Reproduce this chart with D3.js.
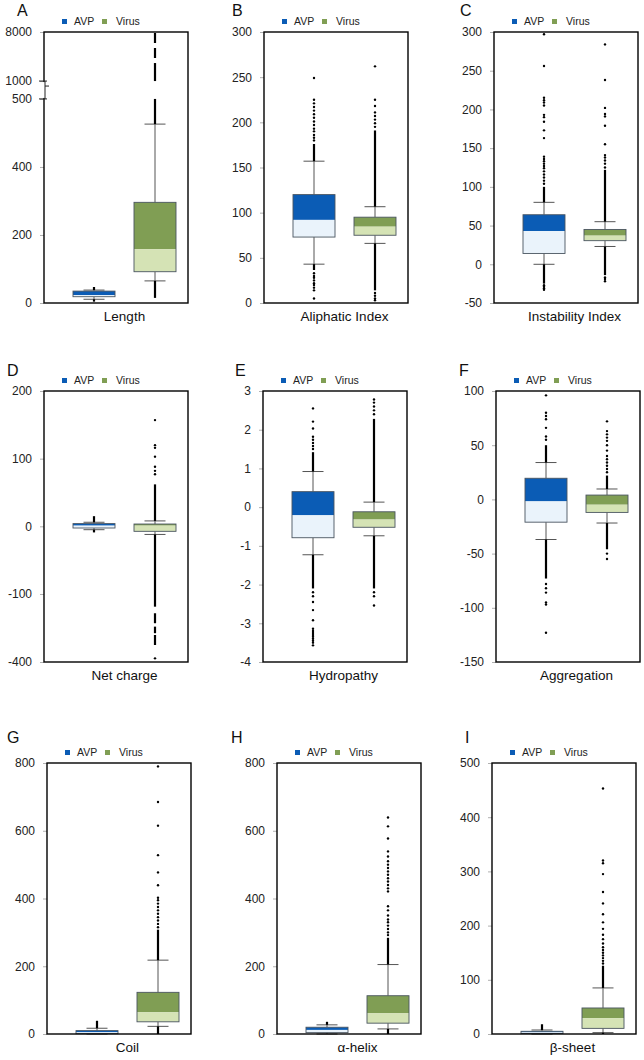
<!DOCTYPE html>
<html><head><meta charset="utf-8">
<script src="https://cdn.jsdelivr.net/npm/d3@7"></script>
<style>body{margin:0;background:#fff}svg{display:block}text{font-family:"Liberation Sans",Arial,sans-serif}</style>
</head><body>
<svg id="c" width="644" height="1060"></svg>
<script>
// ---------- DATA ----------
const panelLetters = ["A","B","C","D","E","F","G","H","I"];
const featureLabels = ["Length","Aliphatic Index","Instability Index","Net charge","Hydropathy","Aggregation","Coil","\u03b1-helix","\u03b2-sheet"];
const groups = ["AVP","Virus"];
// box stats: [lower whisker, Q1, median, Q3, upper whisker]
const avpStats = [
  [11,18.5,23,35,38],[43,73,92,120,157],[0,14,43,64,80],
  [-5,-2.5,1,4,6],[-1.23,-0.79,-0.21,0.4,0.92],[-37,-21,-1.8,19.5,34],
  [0,1,5,10,17],[0,4,12,20,27],[0,1,3,5,7.4]
];
const virusStats = [
  [65,92,158,296,463],[66,75,84.5,95,106.6],[23,30.5,37,45,55],
  [-12,-7.4,1,3.4,8],[-0.74,-0.52,-0.32,-0.12,0.13],[-21.8,-12,-4.9,4,9.6],
  [22.6,36,64,123,218],[15,32,61,113,205],[2.5,10.4,29,48,85]
];
// dense runs of outliers: [from, to]
const avpRuns = [
  [[38,47],[4,11]],[[157,176],[36.5,43]],[[80,100],[-25,0]],
  [[6,15],[-9,-5]],[[0.92,1.42],[-2.1,-1.23]],[[34,50],[-73,-37]],
  [[17,39]],[[27,36]],[[7.4,18]]
];
const virusRuns = [
  [[463,500],[1000,3571],[4286,5714],[6429,7857],[15,65]],
  [[106.6,191],[14,66]],[[55,122],[-14,23]],
  [[8,62],[-156,-12],[-185,-229],[-244,-273],[-281,-325]],
  [[0.13,2.28],[-2.1,-0.74]],[[9.6,22],[-46,-21.8]],
  [[218,308],[0,22.6]],[[205,284],[0,15]],[[85,126],[0,2.5]]
];
// single outliers
const avpDots = [
  [],
  [180,183,186,190,193,197,201,205,209,213,217,221,225,249,33,30,28,25,22,20,17,14,5],
  [104,108,112,116,120,124,127,130,133,136,139,163,173,184,190,193,205,209,212,215,256,297,-27,-29,-31,-33],
  [],
  [1.5,1.58,1.66,1.74,1.82,2.03,2.21,2.55,-2.2,-2.3,-2.45,-2.66,-2.92,-3.14,-3.2,-3.25,-3.3,-3.35,-3.4,-3.45,-3.5,-3.57],
  [55,58,66,74,77,80,96,-78,-82,-86,-95,-97,-123],
  [],[],[]
];
const virusDots = [
  [],
  [195,199,203,207,211,218,225,262,11,8,5,3],
  [125,130,134,138,141,155,179,191,194,202,238,284,-17,-19,-22],
  [157,120,116,103,88,82,77,-384],
  [2.4,2.5,2.6,2.7,2.78,-2.2,-2.3,-2.54],
  [25,28,31,34,37,40,45,50,54,57,60,63,72,-50,-55],
  [315,325,335,345,355,365,375,385,395,402,439,477,528,615,685,790],
  [292,300,310,320,330,338,350,365,377,421,430,440,450,460,470,480,490,500,510,524,539,577,613,639],
  [130,135,140,145,150,155,160,167,175,183,194,206,221,241,262,295,315,320,453]
];
// y axis breakpoints (domain) and tick labels
const yBreaks = [
  [0,400,500,1000,8000],[0,300],[-50,300],
  [-400,-100,200],[-4,3],[-150,100],
  [0,800],[0,800],[0,500]
];
const yTicks = [
  [0,200,400,500,1000,8000],[0,50,100,150,200,250,300],[-50,0,50,100,150,200,250,300],
  [-400,-100,0,100,200],[-4,-3,-2,-1,0,1,2,3],[-150,-100,-50,0,50,100],
  [0,200,400,600,800],[0,200,400,600,800],[0,100,200,300,400,500]
];

// ---------- LAYOUT ----------
const frameLeft = [44,264,494,44,263,496,47,277,492];
const rowTop = [32,391,763];
const H = 271, W = 144;
const letterX = [17,232,460,7,235,459,7,231,465];
const letterY = [16,376,743];
// fractional positions of piecewise breaks (0 = bottom)
const breakFrac = {0:[0,0.502,0.753,0.819,1], 3:[0,0.251,1]};
const colors = {AVP:["#0b5cb5","#eaf3fb"], Virus:["#809e54","#d5e3b5"]};

const svg = d3.select("#c");

panelLetters.forEach((L,i)=>{
  const row = Math.floor(i/3);
  const left = frameLeft[i], top = rowTop[row];
  const g = svg.append("g").attr("transform",`translate(${left},${top})`);

  const dom = yBreaks[i];
  const fr = breakFrac[i] || [0,1];
  const y = d3.scaleLinear().domain(dom).range(fr.map(f=>H - f*H));
  const x = d3.scalePoint().domain(groups).range([50,111]);
  const bw = 42;

  // axis
  const ax = g.append("g").call(d3.axisLeft(y).tickValues(yTicks[i]).tickSize(4).tickPadding(8).tickFormat(d=>String(d)));
  ax.select(".domain").remove();
  ax.selectAll(".tick line").attr("stroke","#b0b0b0");
  ax.selectAll(".tick text").attr("fill","#222").style("font-size","12px").style("font-family",'"Liberation Sans",Arial,sans-serif');

  const stats = {AVP:avpStats[i], Virus:virusStats[i]};
  const runs = {AVP:avpRuns[i], Virus:virusRuns[i]};
  const dots = {AVP:avpDots[i], Virus:virusDots[i]};

  groups.forEach(grp=>{
    const cx = x(grp);
    const [wl,q1,md,q3,wh] = stats[grp];
    // whiskers
    g.append("line").attr("x1",cx).attr("x2",cx).attr("y1",y(q3)).attr("y2",y(wh)).attr("stroke","#555").attr("stroke-width",1);
    g.append("line").attr("x1",cx).attr("x2",cx).attr("y1",y(q1)).attr("y2",y(wl)).attr("stroke","#555").attr("stroke-width",1);
    [wl,wh].forEach(v=>{
      g.append("line").attr("x1",cx-bw/4).attr("x2",cx+bw/4).attr("y1",y(v)).attr("y2",y(v)).attr("stroke","#555").attr("stroke-width",1);
    });
    // outlier runs
    runs[grp].forEach(r=>{
      g.append("line").attr("x1",cx).attr("x2",cx).attr("y1",y(r[0])).attr("y2",y(r[1]))
        .attr("stroke","#000").attr("stroke-width",2.2);
    });
    // box
    g.append("rect").attr("x",cx-bw/2).attr("width",bw).attr("y",y(q3)).attr("height",Math.max(0,y(md)-y(q3))).attr("fill",colors[grp][0]);
    g.append("rect").attr("x",cx-bw/2).attr("width",bw).attr("y",y(md)).attr("height",Math.max(0,y(q1)-y(md))).attr("fill",colors[grp][1]);
    g.append("rect").attr("x",cx-bw/2).attr("width",bw).attr("y",y(q3)).attr("height",Math.max(0.5,y(q1)-y(q3)))
      .attr("fill","none").attr("stroke","#4a5560").attr("stroke-width",0.9);
    // dots
    g.selectAll(null).data(dots[grp]).enter().append("circle")
      .attr("cx",cx).attr("cy",d=>y(d)).attr("r",1.2).attr("fill","#000");
  });

  // frame
  g.append("rect").attr("x",0).attr("y",0).attr("width",W).attr("height",H)
    .attr("fill","none").attr("stroke","#000").attr("stroke-width",1.4);

  // axis break marker for panel A
  if(i===0){
    const y1 = y(1000), y2 = y(500);
    g.append("rect").attr("x",-1).attr("y",y1+1).attr("width",2).attr("height",y2-y1-2).attr("fill","#fff");
    g.append("path").attr("d",`M-5,${y1}H3M1,${y1}V${y2}M1,${y1+5}H5M-5,${y2}H3`)
      .attr("fill","none").attr("stroke","#222").attr("stroke-width",1);
  }

  // legend
  const lg = g.append("g").attr("transform",`translate(18,${-13})`);
  lg.append("rect").attr("width",5).attr("height",5).attr("fill",colors.AVP[0]);
  lg.append("text").attr("x",12).attr("y",6).text("AVP").style("font-size","10.5px").attr("fill","#222");
  lg.append("rect").attr("x",40).attr("width",5).attr("height",5).attr("fill",colors.Virus[0]);
  lg.append("text").attr("x",54).attr("y",6).text("Virus").style("font-size","10.5px").attr("fill","#222");

  // x label
  g.append("text").attr("x",(x("AVP")+x("Virus"))/2).attr("y",H+18).attr("text-anchor","middle")
    .style("font-size","13.5px").attr("fill","#111").text(featureLabels[i]);

  // panel letter
  svg.append("text").attr("x",letterX[i]).attr("y",letterY[row]).style("font-size","16px").attr("fill","#111").text(L);
});
</script>
</body></html>
